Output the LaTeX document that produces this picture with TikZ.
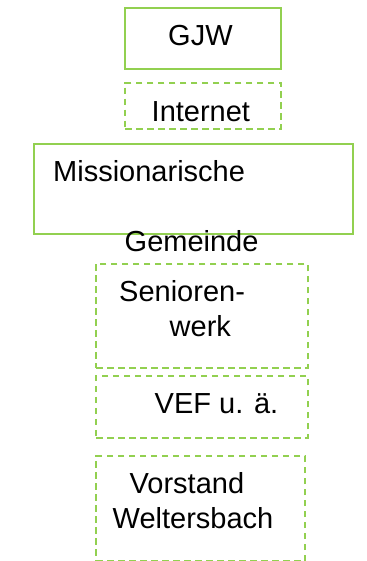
\documentclass[tikz,border=0pt]{standalone}
\usepackage{fontspec}
\setmainfont{Liberation Sans}
\definecolor{boxgreen}{RGB}{146,208,80}
\tikzset{
  solidbox/.style={draw=boxgreen, line width=2pt, inner sep=0pt, anchor=north west},
  dashbox/.style={draw=boxgreen, line width=2pt, dash pattern=on 6.5pt off 4.5pt, inner sep=0pt, anchor=north west},
  lbl/.style={anchor=base west, inner sep=0pt, font=\fontsize{29}{35}\selectfont, text=black}
}
\begin{document}
\begin{tikzpicture}[x=1pt,y=-1pt]
\useasboundingbox (0,0) rectangle (366,561);
% boxes
\node[solidbox, minimum width=156pt, minimum height=61.5pt] (gjw) at (124.3,6.8) {};
\node[dashbox, minimum width=156pt, minimum height=46pt] (inet) at (124.3,81.7) {};
\node[solidbox, minimum width=318.4pt, minimum height=90pt] (miss) at (33.3,142.7) {};
\node[dashbox, minimum width=211.7pt, minimum height=104pt] (sen) at (95,262.7) {};
\node[dashbox, minimum width=211.7pt, minimum height=61.7pt] (vef) at (95,375) {};
\node[dashbox, minimum width=209pt, minimum height=105pt] (vor) at (95,455) {};
% texts
\node[lbl] (tgjw) at (168,46) {GJW};
\node[lbl] (tinet) at (151.5,121.7) {Internet};
\node[lbl] (tmiss) at (53,181.7) {Missionarische};
\node[lbl] (tgem) at (124.5,251.7) {Gemeinde};
\node[lbl] (tsen) at (119,301.7) {Senioren-};
\node[lbl] (twerk) at (169.5,336.7) {werk};
\node[lbl] (tvef) at (154.5,413.3) {VEF u. ä.};
\node[lbl] (tvor) at (129.5,493.3) {Vorstand};
\node[lbl] (twel) at (112.5,528.3) {Weltersbach};
\end{tikzpicture}
\end{document}
